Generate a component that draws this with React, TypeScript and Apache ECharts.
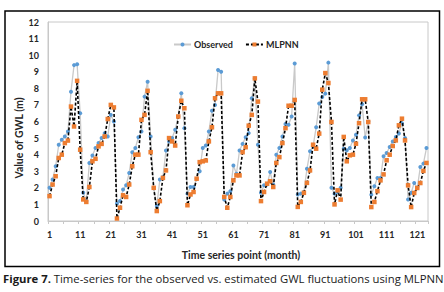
import React, { useEffect, useRef } from "react";
import * as echarts from "echarts";

const observed: number[] = [
  2.0, 2.5, 3.3, 4.6, 4.9, 5.1, 5.4, 7.8, 9.4, 9.45, 6.5, 1.7, 1.2, 3.5, 3.95, 4.4, 4.7, 5.0, 5.3, 5.1,
  6.4, 6.0, 1.05, 1.2, 1.9, 2.15, 2.9, 4.15, 4.4, 5.05, 5.4, 7.5, 8.4, 5.1, 2.0, 0.9, 2.5,
  2.65, 4.25, 4.8, 5.0, 5.5, 6.3, 7.7, 5.6, 1.65, 2.05, 2.05, 2.55, 3.0, 4.4, 4.55, 5.4, 6.65, 7.0,
  9.1, 9.0, 1.3, 1.65, 1.8, 3.35, 2.85, 4.25, 4.65, 5.05, 5.3, 7.4, 8.6, 4.6, 1.7, 2.15, 2.2, 2.95,
  2.2, 4.0, 4.4, 5.1, 5.85, 5.8, 6.3, 9.5,
  1.6, 1.65, 1.75, 3.15, 4.2, 4.5, 5.65, 7.08, 7.48, 7.68, 9.55, 2.0, 1.65, 1.75, 2.0, 4.36, 4.26,
  4.4, 4.86, 5.2, 6.37, 7.04, 5.03, 6.0, 1.59, 2.09, 2.59, 2.6, 3.9, 4.1, 4.46, 4.8, 5.07, 5.27,
  5.9, 5.0, 1.3, 1.7, 2.29, 2.0, 3.26, 3.46, 4.4,
];

const mlpnn: number[] = [
  1.5, 2.2, 2.7, 3.8, 4.0, 4.7, 4.85, 6.9, 5.7, 8.45, 4.3, 1.3, 1.15, 2.05, 3.6, 3.75, 4.5, 4.65, 5.1, 6.15,
  7.0, 6.85, 0.15, 0.8, 1.55, 1.45, 2.2, 3.3, 4.0, 4.0, 6.1, 6.4, 7.85, 4.15, 2.0, 0.6, 1.2,
  2.6, 3.05, 5.0, 4.8, 4.55, 6.3, 7.25, 6.8, 0.95, 1.6, 1.75, 2.55, 3.55, 3.6, 3.65, 4.8, 5.65, 7.4,
  7.7, 7.7, 1.45, 0.8, 1.45, 2.45, 2.75, 2.75, 4.15, 4.45, 5.75, 6.4, 8.6, 7.2, 1.2, 1.75, 2.25, 2.4,
  2.05, 3.5, 3.85, 4.7, 5.6, 6.95, 6.95, 7.3,
  0.85, 1.15, 1.7, 2.3, 3.05, 4.6, 4.36, 5.27, 7.92, 8.92, 8.32, 5.97, 1.0, 1.85, 1.29, 5.07, 3.6,
  3.96, 4.0, 4.66, 5.9, 7.34, 7.34, 5.97, 0.84, 1.15, 1.8, 2.45, 2.81, 3.66, 4.0, 4.52, 4.86, 5.77,
  6.17, 4.86, 2.15, 0.84, 1.69, 1.99, 2.29, 3.02, 3.5,
];

const categories: string[] = observed.map((_, i) => String(i + 1));

const seriesNames = ["Observed", "MLPNN"];
const yAxisTitle = "Value of GWL (m)";
const xAxisTitle = "Time series point (month)";
const captionBold = "Figure 7.";
const captionText = " Time-series for the observed vs. estimated GWL fluctuations using MLPNN";

const labelFont = "Lato, 'Open Sans', sans-serif";

export default function App() {
  const ref = useRef<HTMLDivElement>(null);
  useEffect(() => {
    if (!ref.current) return;
    const chart = echarts.init(ref.current, undefined, { renderer: "svg" });
    chart.setOption({
      animation: false,
      backgroundColor: "#ffffff",
      grid: {
        left: 48,
        top: 22,
        right: 16,
        bottom: 71,
        show: true,
        borderColor: "#c8c8c8",
        borderWidth: 1,
      },
      legend: {
        left: 168,
        top: 35,
        itemWidth: 17,
        itemHeight: 5,
        itemGap: 12,
        textStyle: {
          fontFamily: labelFont,
          fontWeight: "bold",
          fontSize: 9,
          color: "#262626",
          padding: [0, 0, 0, -2],
        },
        data: seriesNames,
      },
      xAxis: {
        type: "category",
        data: categories,
        boundaryGap: true,
        axisLine: { show: true, lineStyle: { color: "#c8c8c8", width: 1 } },
        axisTick: { show: true, interval: 4, length: 3, lineStyle: { color: "#c8c8c8" } },
        axisLabel: {
          interval: 9,
          margin: 9,
          fontFamily: labelFont,
          fontWeight: "bold",
          fontSize: 9,
          color: "#262626",
        },
        splitLine: { show: false },
      },
      yAxis: {
        type: "value",
        min: 0,
        max: 12,
        interval: 1,
        axisLine: { show: true, lineStyle: { color: "#c8c8c8", width: 1 } },
        axisTick: { show: false },
        axisLabel: {
          margin: 9,
          fontFamily: labelFont,
          fontWeight: "bold",
          fontSize: 9,
          color: "#262626",
        },
        splitLine: { show: false },
      },
      series: [
        {
          name: seriesNames[0],
          type: "line",
          data: observed,
          symbol: "circle",
          symbolSize: 4,
          showAllSymbol: true,
          lineStyle: { color: "#c9c9c9", width: 1.3 },
          itemStyle: { color: "#5b9bd5", borderWidth: 0 },
          z: 2,
        },
        {
          name: seriesNames[1],
          type: "line",
          data: mlpnn,
          symbol: "rect",
          symbolSize: 4.5,
          showAllSymbol: true,
          lineStyle: { color: "#000000", width: 1.6, type: [3, 2] },
          itemStyle: { color: "#ed7d31", borderWidth: 0 },
          z: 3,
        },
      ],
      graphic: [
        {
          type: "rect",
          shape: { x: 5, y: 11, width: 434.5, height: 255.5 },
          style: { fill: "none", stroke: "#000000", lineWidth: 1.5 },
          silent: true,
        },
        {
          type: "text",
          x: 19,
          y: 138,
          rotation: Math.PI / 2,
          style: {
            text: yAxisTitle,
            align: "center",
            verticalAlign: "middle",
            fontFamily: labelFont,
            fontWeight: "bold",
            fontSize: 10.5,
            fill: "#262626",
          },
          silent: true,
        },
        {
          type: "text",
          x: 241,
          y: 255,
          style: {
            text: xAxisTitle,
            align: "center",
            verticalAlign: "middle",
            fontFamily: labelFont,
            fontWeight: "bold",
            fontSize: 10.5,
            fill: "#262626",
          },
          silent: true,
        },
        {
          type: "text",
          x: 3,
          y: 278,
          style: {
            text: "{b|" + captionBold + "}" + captionText,
            verticalAlign: "middle",
            fontFamily: "'Open Sans', sans-serif",
            fontSize: 11.3,
            fill: "#1a1a1a",
            rich: {
              b: { fontWeight: "bold", fontFamily: "'Open Sans', sans-serif", fontSize: 11.3, fill: "#1a1a1a" },
            },
          },
          silent: true,
        },
      ],
    });
    return () => chart.dispose();
  }, []);
  return (
    <div
      ref={ref}
      style={{ position: "fixed", left: 0, top: 0, width: 444, height: 292, background: "#fff" }}
    />
  );
}
